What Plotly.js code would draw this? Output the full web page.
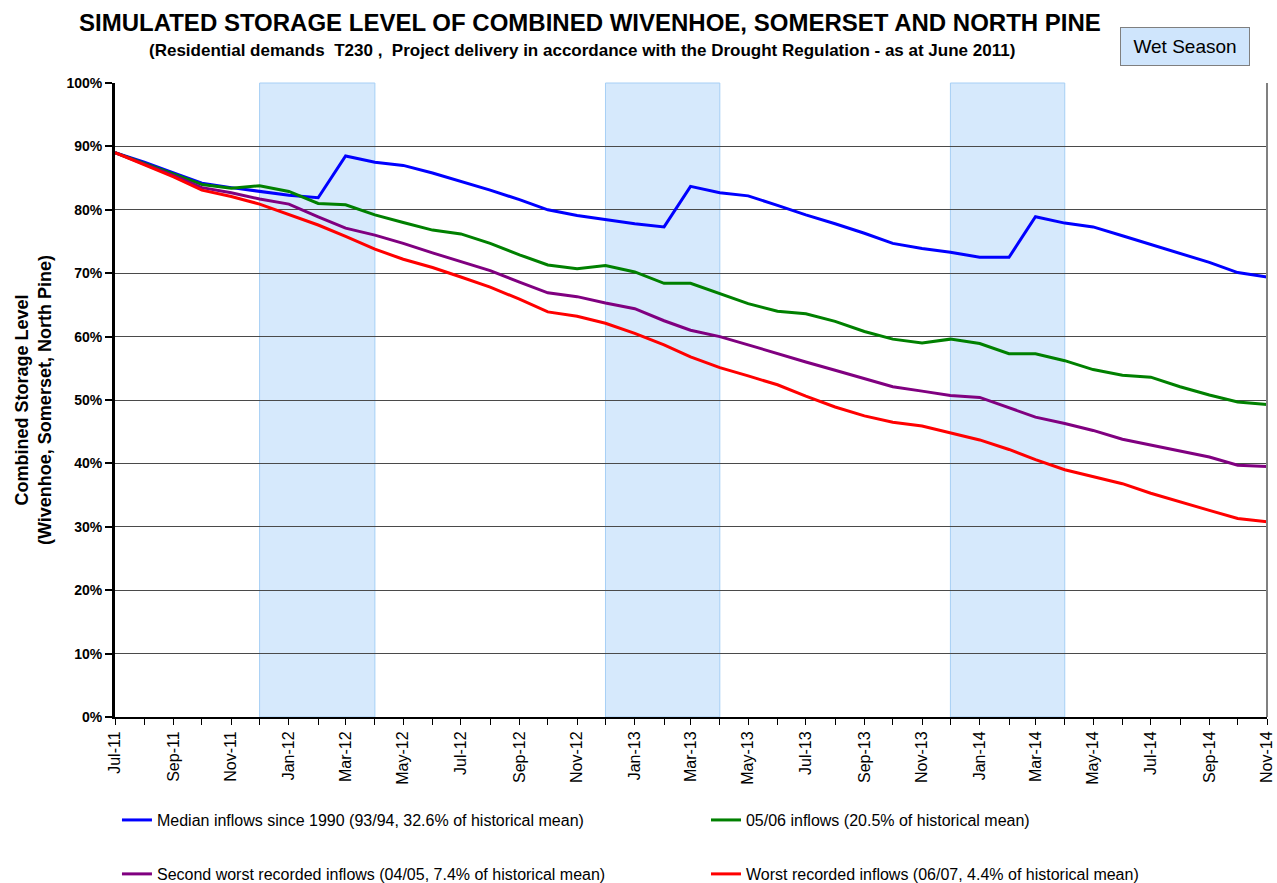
<!DOCTYPE html>
<html>
<head>
<meta charset="utf-8">
<script src="https://cdn.plot.ly/plotly-3.0.1.min.js"></script>
<style>html,body{margin:0;padding:0;background:#fff;}#chart{width:1277px;height:883px;}</style>
</head>
<body>
<div id="chart"></div>
<script>
const months = ["2011-07-01","2011-08-01","2011-09-01","2011-10-01","2011-11-01","2011-12-01",
"2012-01-01","2012-02-01","2012-03-01","2012-04-01","2012-05-01","2012-06-01","2012-07-01","2012-08-01","2012-09-01","2012-10-01","2012-11-01","2012-12-01",
"2013-01-01","2013-02-01","2013-03-01","2013-04-01","2013-05-01","2013-06-01","2013-07-01","2013-08-01","2013-09-01","2013-10-01","2013-11-01","2013-12-01",
"2014-01-01","2014-02-01","2014-03-01","2014-04-01","2014-05-01","2014-06-01","2014-07-01","2014-08-01","2014-09-01","2014-10-01","2014-11-01"];

const medianInflows = [89.0,87.5,85.8,84.2,83.5,82.9,
82.3,81.9,88.5,87.5,87.0,85.8,84.5,83.1,81.6,80.0,79.1,78.5,
77.8,77.3,83.7,82.7,82.2,80.7,79.2,77.8,76.3,74.7,73.9,73.3,
72.5,72.5,78.9,77.9,77.3,75.9,74.5,73.1,71.7,70.1,69.4];

const inflows0506 = [89.0,87.3,85.6,84.0,83.4,83.8,
82.9,81.0,80.8,79.2,78.0,76.8,76.2,74.7,72.9,71.3,70.7,71.2,
70.2,68.4,68.4,66.8,65.2,64.0,63.6,62.4,60.8,59.6,59.0,59.6,
58.9,57.3,57.3,56.2,54.8,53.9,53.6,52.1,50.8,49.7,49.3];

const secondWorst = [89.0,87.2,85.4,83.5,82.7,81.7,
80.9,78.9,77.1,76.0,74.7,73.2,71.8,70.4,68.6,66.9,66.3,65.3,
64.4,62.5,61.0,60.0,58.7,57.3,56.0,54.7,53.4,52.1,51.4,50.7,
50.4,48.8,47.3,46.3,45.2,43.8,42.9,42.0,41.0,39.7,39.5];

const worstRecorded = [89.0,87.1,85.2,83.1,82.1,80.9,
79.3,77.6,75.8,73.8,72.2,70.9,69.4,67.8,65.9,63.9,63.2,62.1,
60.5,58.7,56.8,55.1,53.8,52.4,50.6,48.9,47.5,46.5,45.9,44.8,
43.7,42.2,40.6,39.0,37.9,36.8,35.3,34.0,32.6,31.3,30.8];

const seriesNames = [
  "Median inflows since 1990 (93/94, 32.6% of historical mean)",
  "05/06 inflows (20.5% of historical mean)",
  "Second worst recorded inflows (04/05, 7.4% of historical mean)",
  "Worst recorded inflows (06/07, 4.4% of historical mean)"
];
const seriesColors = ["#0000ff","#008000","#800080","#ff0000"];

const wetStart = ["2011-12-01","2012-12-01","2013-12-01"];
const wetEnd   = ["2012-04-01","2013-04-01","2014-04-01"];

const F = "Arial, 'Liberation Sans', sans-serif";
const legendIds = ["legend", "legend2", "legend3", "legend4"];
const allSeries = [medianInflows, inflows0506, secondWorst, worstRecorded];
const traces = allSeries.map((vals, i) => ({
  type: "scatter", mode: "lines", x: months, y: vals, name: seriesNames[i],
  line: {color: seriesColors[i], width: 3},
  legend: legendIds[i],
  hoverinfo: "skip"
}));

const shapes = wetStart.map((s, i) => ({
  type: "rect", xref: "x", yref: "paper", x0: s, x1: wetEnd[i], y0: 0, y1: 1,
  fillcolor: "#d6e9fc", line: {color: "#a6cff5", width: 1}, layer: "below"
}));
shapes.push({type: "line", xref: "paper", yref: "paper", x0: 1, x1: 1, y0: 0, y1: 1, line: {color: "#808080", width: 2}});

const legendCommon = {
  orientation: "h", xanchor: "left", yanchor: "middle", yref: "container",
  font: {family: F, size: 16, color: "#000"}, itemwidth: 30,
  bgcolor: "rgba(0,0,0,0)"
};
const legendX = [0.0017, 0.513, 0.0017, 0.513];
const legendY = [0.0713, 0.0713, 0.0102, 0.0102];

const layout = {
  width: 1277, height: 883,
  margin: {l: 115, r: 10, t: 83, b: 166},
  paper_bgcolor: "#fff", plot_bgcolor: "#fff",
  showlegend: true,
  xaxis: {
    type: "date", range: ["2011-07-01", "2014-11-01"], automargin: false,
    tick0: "2011-07-01", dtick: "M2", tickformat: "%b-%y", tickangle: -90,
    ticks: "outside", ticklen: 6, tickcolor: "#000", tickwidth: 1,
    minor: {dtick: "M1", ticks: "outside", ticklen: 6, tickcolor: "#000", showgrid: false},
    showgrid: false, showline: true, linecolor: "#000", linewidth: 2,
    tickfont: {family: F, size: 16, color: "#000"}, zeroline: false
  },
  yaxis: {
    range: [0, 100], dtick: 10, ticksuffix: "%", automargin: false,
    ticks: "outside", ticklen: 7, tickcolor: "#000", tickwidth: 2,
    showgrid: true, gridcolor: "#4a4a4a", gridwidth: 1,
    showline: true, linecolor: "#000", linewidth: 3, zeroline: false,
    tickfont: {family: F, size: 14, color: "#000", weight: "bold"}
  },
  shapes: shapes,
  annotations: [
    {xref: "paper", yref: "paper", x: 0.4119, y: 1.096, xanchor: "center", yanchor: "middle", showarrow: false,
     text: "<b>SIMULATED STORAGE LEVEL OF COMBINED WIVENHOE, SOMERSET AND NORTH PINE</b>",
     font: {family: F, size: 24, color: "#000"}},
    {xref: "paper", yref: "paper", x: 0.4058, y: 1.052, xanchor: "center", yanchor: "middle", showarrow: false,
     text: "<b>(Residential demands  T230 ,  Project delivery in accordance with the Drought Regulation - as at June 2011)</b>",
     font: {family: F, size: 17, color: "#000"}},
    {xref: "paper", yref: "paper", x: 0.9288, y: 1.0576, xanchor: "center", yanchor: "middle", showarrow: false,
     text: "Wet Season", width: 126, height: 35, bgcolor: "#cfe5fc", bordercolor: "#7f7f7f", borderwidth: 1,
     font: {family: F, size: 19, color: "#000"}},
    {xref: "paper", yref: "paper", x: -0.0712, y: 0.5, xanchor: "center", yanchor: "middle", showarrow: false,
     textangle: -90, text: "<b>Combined Storage Level<br>(Wivenhoe, Somerset, North Pine)</b>",
     font: {family: F, size: 18, color: "#000"}}
  ]
};
legendIds.forEach((id, i) => {
  layout[id] = Object.assign({x: legendX[i], y: legendY[i]}, legendCommon);
});

Plotly.newPlot("chart", traces, layout, {staticPlot: true, displayModeBar: false});
</script>
</body>
</html>
